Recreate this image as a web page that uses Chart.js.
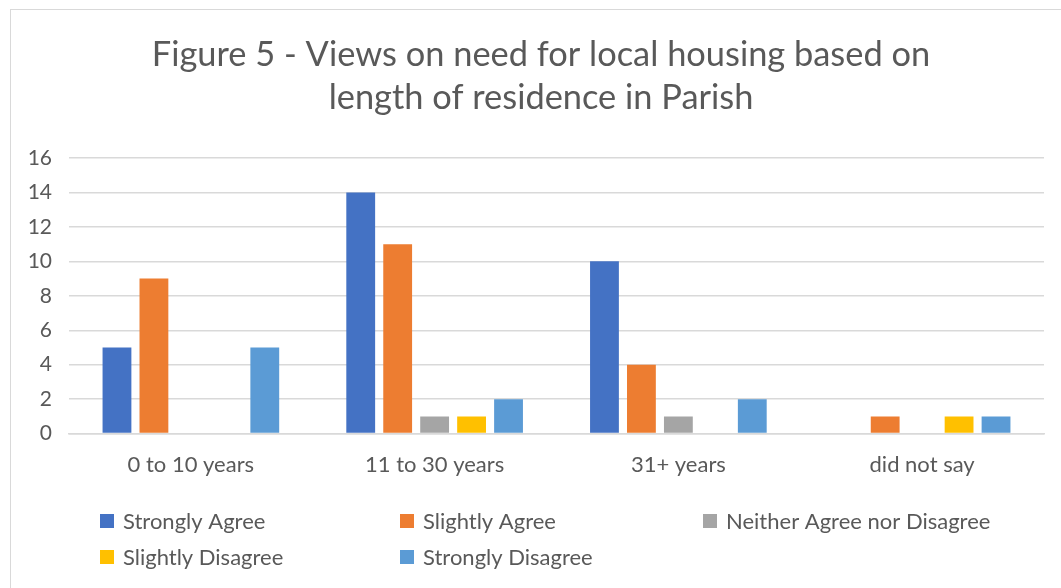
<!DOCTYPE html>
<html>
<head>
<meta charset="utf-8">
<script src="https://cdn.jsdelivr.net/npm/chart.js@4/dist/chart.umd.min.js"></script>
<style>
  html, body { margin: 0; padding: 0; background: #fff; overflow: hidden; }
  #frame {
    position: absolute; left: 10px; top: 9px; width: 1100px; height: 700px;
    border: 1.5px solid #d9d9d9; box-sizing: border-box;
  }
  #wrap { position: absolute; left: 0; top: 0; width: 1061px; height: 588px; }
</style>
</head>
<body>
<div id="frame"></div>
<div id="wrap"><canvas id="chart"></canvas></div>
<script>
// ===== Data =====
const categories = ['0 to 10 years', '11 to 30 years', '31+ years', 'did not say'];
const seriesNames = ['Strongly Agree', 'Slightly Agree', 'Neither Agree nor Disagree', 'Slightly Disagree', 'Strongly Disagree'];
const stronglyAgree = [5, 14, 10, 0];
const slightlyAgree = [9, 11, 4, 1];
const neither = [0, 1, 1, 0];
const slightlyDisagree = [0, 1, 0, 1];
const stronglyDisagree = [5, 2, 2, 1];
const yTicks = [0, 2, 4, 6, 8, 10, 12, 14, 16];
const titleLines = ['Figure 5 - Views on need for local housing based on', 'length of residence in Parish'];

const colors = ['#4472C4', '#ED7D31', '#A5A5A5', '#FFC000', '#5B9BD5'];
const FONT = "Lato, 'Open Sans', sans-serif";
const TEXT = '#595959';

const seriesValues = [stronglyAgree, slightlyAgree, neither, slightlyDisagree, stronglyDisagree];

// Title centred on the chart frame (Excel centres on the frame, not the canvas)
const frameTitle = {
  id: 'frameTitle',
  afterDraw(chart, args, opts) {
    const ctx = chart.ctx;
    ctx.save();
    ctx.font = `${opts.fontSize}px ${FONT}`;
    ctx.fillStyle = TEXT;
    ctx.textAlign = 'center';
    ctx.textBaseline = 'middle';
    opts.lines.forEach((line, i) => {
      ctx.fillText(line, opts.x, opts.y + i * opts.lineHeight);
    });
    ctx.restore();
  }
};

// Excel-style legend: fixed columns, two rows
const gridLegend = {
  id: 'gridLegend',
  afterDraw(chart, args, opts) {
    const ctx = chart.ctx;
    ctx.save();
    ctx.font = `${opts.fontSize}px ${FONT}`;
    ctx.textBaseline = 'middle';
    chart.data.datasets.forEach((ds, i) => {
      const col = i % opts.columns.length;
      const row = Math.floor(i / opts.columns.length);
      const x = opts.columns[col];
      const y = opts.rows[row];
      ctx.fillStyle = ds.backgroundColor;
      ctx.fillRect(x, y - opts.box / 2, opts.box, opts.box);
      ctx.fillStyle = TEXT;
      ctx.fillText(ds.label, x + opts.box + 9, y + 1);
    });
    ctx.restore();
  }
};

new Chart(document.getElementById('chart'), {
  type: 'bar',
  data: {
    labels: categories,
    datasets: seriesNames.map((name, i) => ({
      label: name,
      data: seriesValues[i],
      backgroundColor: colors[i],
      borderWidth: 0,
      categoryPercentage: 0.758,
      barPercentage: 0.78
    }))
  },
  options: {
    responsive: true,
    maintainAspectRatio: false,
    animation: false,
    layout: { padding: { left: 0, right: 17, top: 158, bottom: 92 } },
    scales: {
      x: {
        grid: { display: false, drawTicks: false },
        border: { display: true, color: '#d9d9d9', width: 1.5 },
        ticks: { color: TEXT, font: { family: FONT, size: 22 }, padding: 18 }
      },
      y: {
        min: 0,
        max: 16,
        afterFit: (scale) => { scale.width = 69; },
        afterBuildTicks: (scale) => { scale.ticks = yTicks.map((v) => ({ value: v })); },
        grid: { color: '#d9d9d9', lineWidth: 1.5, drawTicks: false },
        border: { display: false },
        ticks: { color: TEXT, font: { family: FONT, size: 21 }, padding: 17 }
      }
    },
    plugins: {
      legend: { display: false },
      tooltip: { enabled: false },
      title: { display: false },
      frameTitle: { lines: titleLines, x: 541, y: 55, lineHeight: 43, fontSize: 34.4 },
      gridLegend: { columns: [100, 400, 703], rows: [521, 557], box: 14, fontSize: 22 }
    }
  },
  plugins: [frameTitle, gridLegend]
});
</script>
</body>
</html>
